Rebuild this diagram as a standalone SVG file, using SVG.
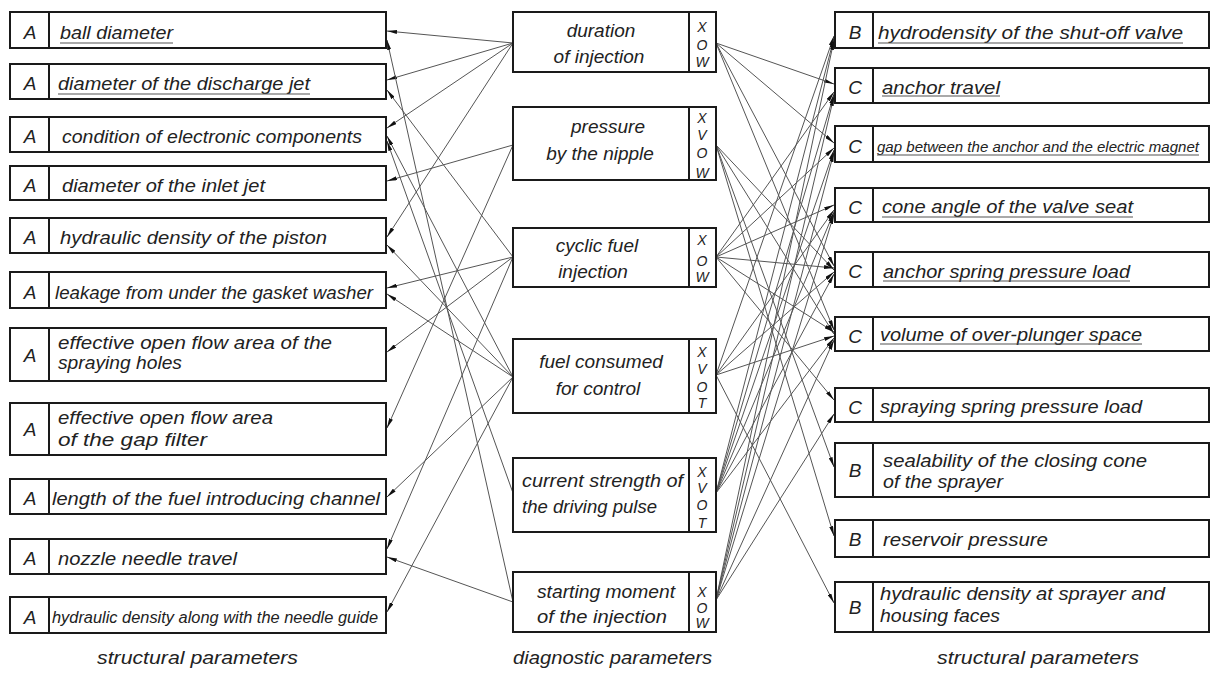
<svg xmlns="http://www.w3.org/2000/svg" width="1211" height="673" viewBox="0 0 1211 673">
<style>
.box{fill:#fff;stroke:#1a1a1a;stroke-width:2}
.dv{stroke:#1a1a1a;stroke-width:2}
.t{font-family:"Liberation Sans",Arial,sans-serif;font-style:italic;font-size:19px;fill:#222}
.s{font-family:"Liberation Sans",Arial,sans-serif;font-style:italic;font-size:14px;fill:#222;text-anchor:middle}
.k{font-family:"Liberation Sans",Arial,sans-serif;font-style:italic;font-size:19px;fill:#222;text-anchor:middle}
.m{text-anchor:middle}
.u{stroke:#555;stroke-width:1.2}
.c line{stroke:#555;stroke-width:1;marker-end:url(#ah)}
</style>
<defs>
<marker id="ah" viewBox="0 0 10 4" refX="10" refY="2" markerWidth="10" markerHeight="4" orient="auto" markerUnits="userSpaceOnUse"><path d="M0,0 L10,2 L0,4 z" fill="#111"/></marker>
</defs>
<rect width="1211" height="673" fill="#fff"/>

<g id="connectors" class="c">
<line x1="513" y1="43" x2="387" y2="31"/>
<line x1="513" y1="43" x2="387" y2="80"/>
<line x1="513" y1="43" x2="387" y2="128"/>
<line x1="513" y1="43" x2="387" y2="237"/>
<line x1="513" y1="145" x2="387" y2="181"/>
<line x1="513" y1="145" x2="387" y2="428"/>
<line x1="513" y1="257" x2="387" y2="90"/>
<line x1="513" y1="257" x2="387" y2="288"/>
<line x1="513" y1="257" x2="387" y2="352"/>
<line x1="513" y1="257" x2="387" y2="549"/>
<line x1="513" y1="377" x2="387" y2="136"/>
<line x1="513" y1="377" x2="387" y2="245"/>
<line x1="513" y1="377" x2="387" y2="294"/>
<line x1="513" y1="377" x2="387" y2="497"/>
<line x1="513" y1="377" x2="387" y2="612"/>
<line x1="513" y1="493" x2="387" y2="141"/>
<line x1="513" y1="602" x2="387" y2="40"/>
<line x1="513" y1="602" x2="387" y2="557"/>

<line x1="716" y1="43" x2="834" y2="84"/>
<line x1="716" y1="43" x2="834" y2="143"/>
<line x1="716" y1="43" x2="834" y2="266"/>
<line x1="716" y1="43" x2="834" y2="330"/>
<line x1="716" y1="145" x2="834" y2="270"/>
<line x1="716" y1="145" x2="834" y2="334"/>
<line x1="716" y1="145" x2="834" y2="467"/>
<line x1="716" y1="145" x2="834" y2="536"/>
<line x1="716" y1="257" x2="834" y2="92"/>
<line x1="716" y1="257" x2="834" y2="148"/>
<line x1="716" y1="257" x2="834" y2="205"/>
<line x1="716" y1="257" x2="834" y2="268"/>
<line x1="716" y1="257" x2="834" y2="332"/>
<line x1="716" y1="257" x2="834" y2="400"/>
<line x1="716" y1="375" x2="834" y2="36"/>
<line x1="716" y1="375" x2="834" y2="210"/>
<line x1="716" y1="375" x2="834" y2="272"/>
<line x1="716" y1="375" x2="834" y2="336"/>
<line x1="716" y1="375" x2="834" y2="603"/>
<line x1="716" y1="493" x2="834" y2="38"/>
<line x1="716" y1="493" x2="834" y2="94"/>
<line x1="716" y1="493" x2="834" y2="150"/>
<line x1="716" y1="493" x2="834" y2="212"/>
<line x1="716" y1="493" x2="834" y2="274"/>
<line x1="716" y1="493" x2="834" y2="338"/>
<line x1="716" y1="600" x2="834" y2="40"/>
<line x1="716" y1="600" x2="834" y2="96"/>
<line x1="716" y1="600" x2="834" y2="152"/>
<line x1="716" y1="600" x2="834" y2="214"/>
<line x1="716" y1="600" x2="834" y2="340"/>
<line x1="716" y1="600" x2="834" y2="414"/>
</g>

<!-- left column -->
<g id="L1"><rect class="box" x="10" y="12" width="376" height="36"/><line class="dv" x1="49" y1="12" x2="49" y2="48"/><text class="k" x="30" y="39">A</text><text class="t" x="60" y="39" textLength="113" lengthAdjust="spacingAndGlyphs">ball diameter</text><line class="u" x1="60" y1="43" x2="173" y2="43"/></g>
<g id="L2"><rect class="box" x="10" y="64" width="376" height="35"/><line class="dv" x1="49" y1="64" x2="49" y2="99"/><text class="k" x="30" y="90">A</text><text class="t" x="58" y="90" textLength="252" lengthAdjust="spacingAndGlyphs">diameter of the discharge jet</text><line class="u" x1="58" y1="94" x2="310" y2="94"/></g>
<g id="L3"><rect class="box" x="10" y="117" width="376" height="35"/><line class="dv" x1="49" y1="117" x2="49" y2="152"/><text class="k" x="30" y="143">A</text><text class="t" x="62" y="143" textLength="300" lengthAdjust="spacingAndGlyphs">condition of electronic components</text></g>
<g id="L4"><rect class="box" x="10" y="166" width="376" height="34"/><line class="dv" x1="49" y1="166" x2="49" y2="200"/><text class="k" x="30" y="192">A</text><text class="t" x="62" y="192" textLength="203" lengthAdjust="spacingAndGlyphs">diameter of the inlet jet</text></g>
<g id="L5"><rect class="box" x="10" y="218" width="376" height="35"/><line class="dv" x1="49" y1="218" x2="49" y2="253"/><text class="k" x="30" y="244">A</text><text class="t" x="60" y="244" textLength="267" lengthAdjust="spacingAndGlyphs">hydraulic density of the piston</text></g>
<g id="L6"><rect class="box" x="10" y="272" width="376" height="36"/><line class="dv" x1="49" y1="272" x2="49" y2="308"/><text class="k" x="30" y="299">A</text><text class="t" x="55" y="299" textLength="318" lengthAdjust="spacingAndGlyphs">leakage from under the gasket washer</text></g>
<g id="L7"><rect class="box" x="10" y="328" width="376" height="53"/><line class="dv" x1="49" y1="328" x2="49" y2="381"/><text class="k" x="30" y="362">A</text><text class="t" x="58" y="349" textLength="274" lengthAdjust="spacingAndGlyphs">effective open flow area of the</text><text class="t" x="58" y="369" textLength="124" lengthAdjust="spacingAndGlyphs">spraying holes</text></g>
<g id="L8"><rect class="box" x="10" y="403" width="376" height="52"/><line class="dv" x1="49" y1="403" x2="49" y2="455"/><text class="k" x="30" y="436">A</text><text class="t" x="58" y="424" textLength="215" lengthAdjust="spacingAndGlyphs">effective open flow area</text><text class="t" x="58" y="446" textLength="149" lengthAdjust="spacingAndGlyphs">of the gap filter</text></g>
<g id="L9"><rect class="box" x="10" y="479" width="376" height="35"/><line class="dv" x1="49" y1="479" x2="49" y2="514"/><text class="k" x="30" y="505">A</text><text class="t" x="52" y="505" textLength="328" lengthAdjust="spacingAndGlyphs">length of the fuel introducing channel</text></g>
<g id="L10"><rect class="box" x="10" y="539" width="376" height="35"/><line class="dv" x1="49" y1="539" x2="49" y2="574"/><text class="k" x="30" y="565">A</text><text class="t" x="58" y="565" textLength="179" lengthAdjust="spacingAndGlyphs">nozzle needle travel</text></g>
<g id="L11"><rect class="box" x="10" y="597" width="376" height="36"/><line class="dv" x1="49" y1="597" x2="49" y2="633"/><text class="k" x="30" y="624">A</text><text class="t" x="52" y="623" textLength="326" lengthAdjust="spacingAndGlyphs" style="font-size:16px">hydraulic density along with the needle guide</text></g>
<text class="t" x="97" y="664" textLength="201" lengthAdjust="spacingAndGlyphs">structural parameters</text>

<!-- middle column -->
<g id="M1"><rect class="box" x="513" y="12" width="203" height="60"/><line class="dv" x1="689" y1="12" x2="689" y2="72"/><text class="t m" x="601" y="37">duration</text><text class="t m" x="599" y="63">of injection</text><text class="s" x="702" y="32">X</text><text class="s" x="702" y="50">O</text><text class="s" x="702" y="67">W</text></g>
<g id="M2"><rect class="box" x="513" y="107" width="203" height="73"/><line class="dv" x1="689" y1="107" x2="689" y2="180"/><text class="t m" x="608" y="133">pressure</text><text class="t m" x="600" y="160">by the nipple</text><text class="s" x="702" y="123">X</text><text class="s" x="702" y="140">V</text><text class="s" x="702" y="158">O</text><text class="s" x="702" y="178">W</text></g>
<g id="M3"><rect class="box" x="513" y="228" width="203" height="59"/><line class="dv" x1="689" y1="228" x2="689" y2="287"/><text class="t m" x="597" y="252">cyclic fuel</text><text class="t m" x="593" y="278">injection</text><text class="s" x="702" y="245">X</text><text class="s" x="702" y="266">O</text><text class="s" x="702" y="282">W</text></g>
<g id="M4"><rect class="box" x="513" y="339" width="203" height="74"/><line class="dv" x1="689" y1="339" x2="689" y2="413"/><text class="t m" x="601" y="368">fuel consumed</text><text class="t m" x="598" y="395">for control</text><text class="s" x="702" y="357">X</text><text class="s" x="702" y="374">V</text><text class="s" x="702" y="392">O</text><text class="s" x="702" y="408">T</text></g>
<g id="M5"><rect class="box" x="513" y="458" width="203" height="74"/><line class="dv" x1="689" y1="458" x2="689" y2="532"/><text class="t" x="522" y="487" textLength="161" lengthAdjust="spacingAndGlyphs">current strength of</text><text class="t" x="522" y="513" textLength="135" lengthAdjust="spacingAndGlyphs">the driving pulse</text><text class="s" x="702" y="477">X</text><text class="s" x="702" y="493">V</text><text class="s" x="702" y="510">O</text><text class="s" x="702" y="528">T</text></g>
<g id="M6"><rect class="box" x="513" y="572" width="203" height="60"/><line class="dv" x1="689" y1="572" x2="689" y2="632"/><text class="t" x="537" y="598" textLength="138" lengthAdjust="spacingAndGlyphs">starting moment</text><text class="t" x="537" y="623" textLength="130" lengthAdjust="spacingAndGlyphs">of the injection</text><text class="s" x="702" y="597">X</text><text class="s" x="702" y="613">O</text><text class="s" x="702" y="628">W</text></g>
<text class="t" x="513" y="664" textLength="199" lengthAdjust="spacingAndGlyphs">diagnostic parameters</text>

<!-- right column -->
<g id="R1"><rect class="box" x="835" y="12" width="374" height="36"/><line class="dv" x1="873" y1="12" x2="873" y2="48"/><text class="k" x="855" y="39">B</text><text class="t" x="878" y="39" textLength="305" lengthAdjust="spacingAndGlyphs">hydrodensity of the shut-off valve</text><line class="u" x1="878" y1="43" x2="1183" y2="43"/></g>
<g id="R2"><rect class="box" x="835" y="68" width="374" height="35"/><line class="dv" x1="873" y1="68" x2="873" y2="103"/><text class="k" x="855" y="94">C</text><text class="t" x="882" y="94" textLength="118" lengthAdjust="spacingAndGlyphs">anchor travel</text><line class="u" x1="882" y1="96" x2="1000" y2="96"/></g>
<g id="R3"><rect class="box" x="835" y="126" width="374" height="36"/><line class="dv" x1="873" y1="126" x2="873" y2="162"/><text class="k" x="855" y="153">C</text><text class="t" x="877" y="152" textLength="322" lengthAdjust="spacingAndGlyphs" style="font-size:14.5px">gap between the anchor and the electric magnet</text><line class="u" x1="877" y1="155" x2="1199" y2="155"/></g>
<g id="R4"><rect class="box" x="835" y="188" width="374" height="34"/><line class="dv" x1="873" y1="188" x2="873" y2="222"/><text class="k" x="855" y="214">C</text><text class="t" x="882" y="213" textLength="251" lengthAdjust="spacingAndGlyphs">cone angle of the valve seat</text><line class="u" x1="882" y1="217" x2="1133" y2="217"/></g>
<g id="R5"><rect class="box" x="835" y="252" width="374" height="35"/><line class="dv" x1="873" y1="252" x2="873" y2="287"/><text class="k" x="855" y="278">C</text><text class="t" x="883" y="278" textLength="247" lengthAdjust="spacingAndGlyphs">anchor spring pressure load</text><line class="u" x1="883" y1="281" x2="1130" y2="281"/></g>
<g id="R6"><rect class="box" x="835" y="317" width="374" height="34"/><line class="dv" x1="873" y1="317" x2="873" y2="351"/><text class="k" x="855" y="343">C</text><text class="t" x="880" y="341" textLength="262" lengthAdjust="spacingAndGlyphs">volume of over-plunger space</text><line class="u" x1="880" y1="344" x2="1142" y2="344"/></g>
<g id="R7"><rect class="box" x="835" y="388" width="374" height="34"/><line class="dv" x1="873" y1="388" x2="873" y2="422"/><text class="k" x="855" y="414">C</text><text class="t" x="880" y="413" textLength="262" lengthAdjust="spacingAndGlyphs">spraying spring pressure load</text></g>
<g id="R8"><rect class="box" x="835" y="443" width="374" height="54"/><line class="dv" x1="873" y1="443" x2="873" y2="497"/><text class="k" x="855" y="477">B</text><text class="t" x="883" y="467" textLength="264" lengthAdjust="spacingAndGlyphs">sealability of the closing cone</text><text class="t" x="883" y="488" textLength="120" lengthAdjust="spacingAndGlyphs">of the sprayer</text></g>
<g id="R9"><rect class="box" x="835" y="520" width="374" height="37"/><line class="dv" x1="873" y1="520" x2="873" y2="557"/><text class="k" x="855" y="546">B</text><text class="t" x="883" y="546" textLength="165" lengthAdjust="spacingAndGlyphs">reservoir pressure</text></g>
<g id="R10"><rect class="box" x="835" y="582" width="374" height="50"/><line class="dv" x1="873" y1="582" x2="873" y2="632"/><text class="k" x="855" y="614">B</text><text class="t" x="880" y="600" textLength="285" lengthAdjust="spacingAndGlyphs">hydraulic density at sprayer and</text><text class="t" x="880" y="622" textLength="120" lengthAdjust="spacingAndGlyphs">housing faces</text></g>
<text class="t" x="937" y="664" textLength="202" lengthAdjust="spacingAndGlyphs">structural parameters</text>
</svg>
